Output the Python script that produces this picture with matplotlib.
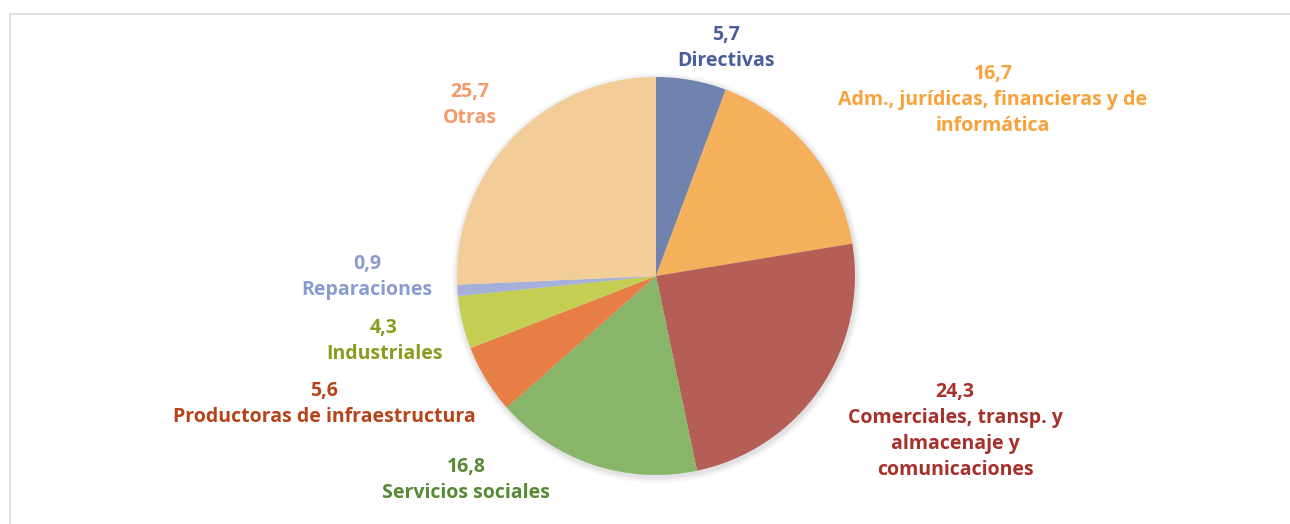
import matplotlib.pyplot as plt
from matplotlib.patches import Rectangle, Circle

# data (percent), clockwise from 12 o'clock
categories = ['Directivas', 'Adm., jurídicas, financieras y de\ninformática',
              'Comerciales, transp. y\nalmacenaje y\ncomunicaciones',
              'Servicios sociales', 'Productoras de infraestructura',
              'Industriales', 'Reparaciones', 'Otras']
values = [5.7, 16.7, 24.3, 16.8, 5.6, 4.3, 0.9, 25.7]

slice_colors = ['#7083AE', '#F4B05A', '#B55E56', '#89B56B',
                '#E67E45', '#C3CE53', '#A4AFDB', '#F3CD98']
label_colors = ['#4A5E9C', '#F9A13A', '#A8302B', '#568A34',
                '#B5441A', '#8C9B1E', '#8A9BD0', '#F49A6A']
# label block centres in pixels (x, y from top)
label_pos = [(726, 48), (993, 100), (955, 431), (466, 480),
             (324, 404), (384, 341), (367, 277), (470, 105)]

W, H = 1290, 524
fig = plt.figure(figsize=(W / 100, H / 100), dpi=100)
ax = fig.add_axes([0, 0, 1, 1])

cx, cy, r = 656, H - 276, 199

# soft shadow
for i, a in enumerate([0.025, 0.025, 0.03, 0.035]):
    ax.add_patch(Circle((cx + 1, cy - 2), r + 6 - i * 1.5, color='black',
                        alpha=a, linewidth=0, zorder=1))

ax.pie(values, colors=slice_colors, startangle=90, counterclock=False,
       center=(cx, cy), radius=r, frame=True,
       wedgeprops={'linewidth': 0, 'zorder': 2})
ax.set_xlim(0, W)
ax.set_ylim(0, H)
ax.set_aspect('equal')
ax.axis('off')

# chart frame
ax.add_patch(Rectangle((10, -20), W + 20, H - 14 + 20, fill=False,
                       edgecolor='#D9D9D9', linewidth=1.2))

for cat, val, col, (x, y) in zip(categories, values, label_colors, label_pos):
    txt = f'{val:.1f}'.replace('.', ',') + '\n' + cat
    ax.text(x, H - y, txt, color=col, fontsize=14, fontweight='bold',
            family='Open Sans', ha='center', va='center', linespacing=1.4)

fig.savefig('out.png', dpi=100)
